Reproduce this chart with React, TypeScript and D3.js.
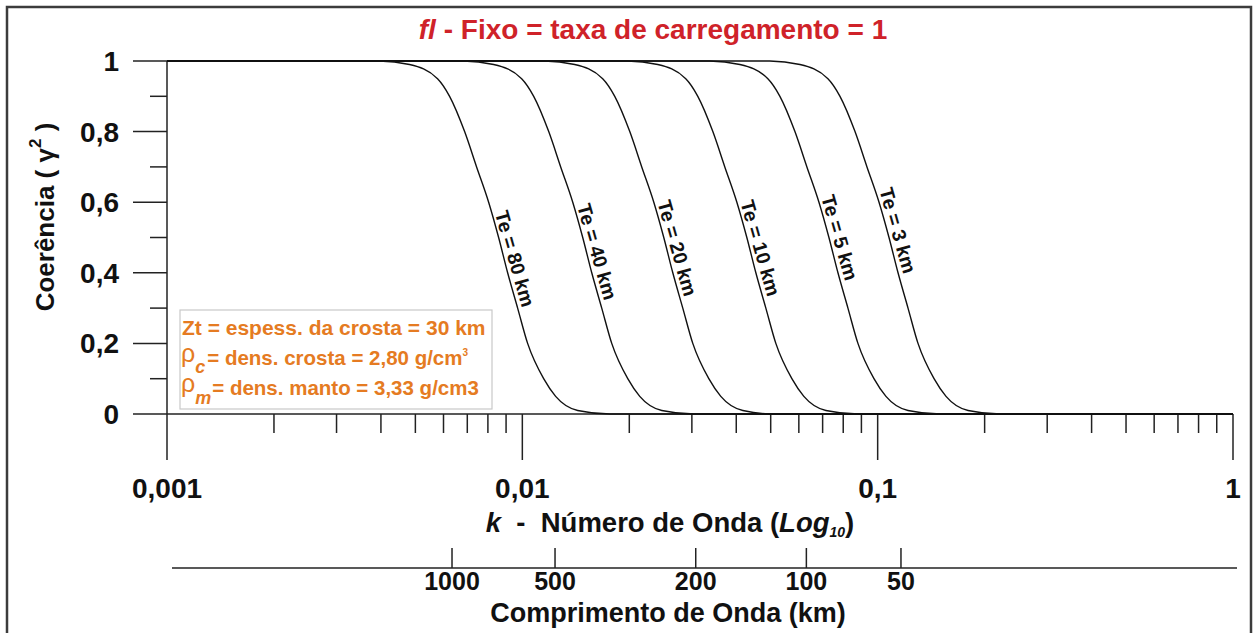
import * as d3 from "d3"

// coherence levels shared by all the curves (top to bottom)
const coherence = [1, 1, 0.99, 0.95, 0.9, 0.8, 0.7, 0.6, 0.5, 0.4, 0.3, 0.2, 0.1, 0.05, 0.01, 0, 0]

// wavenumber k for each level
const te80K = [0.001, 0.00396, 0.004815, 0.005773, 0.006242, 0.00688, 0.007435, 0.008039, 0.008576, 0.009092, 0.0097, 0.010349, 0.011482, 0.012409, 0.014316, 0.017616, 1]
const te40K = [0.001, 0.006829, 0.008304, 0.009956, 0.010765, 0.011865, 0.012822, 0.013864, 0.01479, 0.01568, 0.016729, 0.017848, 0.019802, 0.021401, 0.024689, 0.03038, 1]
const te20K = [0.001, 0.011547, 0.014041, 0.016834, 0.018202, 0.020062, 0.02168, 0.023442, 0.025008, 0.026512, 0.028285, 0.030178, 0.033482, 0.036185, 0.041745, 0.051368, 1]
const te10K = [0.001, 0.01978, 0.024051, 0.028836, 0.031179, 0.034366, 0.037138, 0.040155, 0.042837, 0.045415, 0.048452, 0.051693, 0.057353, 0.061983, 0.071508, 0.087992, 1]
const te5K = [0.001, 0.033672, 0.040942, 0.049088, 0.053076, 0.058501, 0.06322, 0.068356, 0.072922, 0.077309, 0.082479, 0.087998, 0.097632, 0.105514, 0.121729, 0.149789, 1]
const te3K = [0.001, 0.049698, 0.060428, 0.072451, 0.078337, 0.086344, 0.093309, 0.100889, 0.107629, 0.114105, 0.121735, 0.12988, 0.144099, 0.155733, 0.179666, 0.221081, 1]

const curveNames = ["Te = 80 km", "Te = 40 km", "Te = 20 km", "Te = 10 km", "Te = 5 km", "Te = 3 km"]
const curveKs = [te80K, te40K, te20K, te10K, te5K, te3K]

// axes
const yMajor = [0, 0.2, 0.4, 0.6, 0.8, 1]
const yMajorLabels = ["0", "0,2", "0,4", "0,6", "0,8", "1"]
const yMinor = [0.1, 0.3, 0.5, 0.7, 0.9]
const kDecades = [0.001, 0.01, 0.1, 1]
const kDecadeLabels = ["0,001", "0,01", "0,1", "1"]
const wavelengthLabels = ["1000", "500", "200", "100", "50"]
const wavelengthK = [0.00634, 0.01236, 0.03076, 0.063, 0.1163]

const FONT = "'Liberation Sans', Arial, sans-serif"
const RED = "#cf2229"
const ORANGE = "#e57b22"

export default function App() {
  const W = 1253
  const H = 633
  const x = d3.scaleLog().domain([0.001, 1]).range([167, 1233])
  const y = d3.scaleLinear().domain([0, 1]).range([414, 61])

  const kMinor: number[] = []
  for (let d = 0; d < 3; d++) {
    for (let m = 2; m <= 9; m++) kMinor.push(kDecades[d] * m)
  }

  const line = d3
    .line<[number, number]>()
    .x((d) => x(d[0]))
    .y((d) => y(d[1]))
    .curve(d3.curveMonotoneX)

  // where each label sits along its curve (coherence level) - layout only
  const labelAt = [0.44, 0.46, 0.47, 0.47, 0.5, 0.52]
  const labelPos = curveKs.map((ks, i) => {
    const c = labelAt[i]
    let j = 0
    while (j < coherence.length - 1 && !(coherence[j] >= c && coherence[j + 1] <= c)) j++
    const t = (coherence[j] - c) / (coherence[j] - coherence[j + 1] || 1)
    const lx = x(ks[j]) + (x(ks[j + 1]) - x(ks[j])) * t
    return [lx + 11, y(c)]
  })

  const yAxisX = x(0.001)
  const secY = 568

  return (
    <svg width={W} height={H} style={{ position: "absolute", left: 0, top: 0, background: "#fff" }} fontFamily={FONT}>
      <rect x={7} y={7} width={1244} height={660} fill="#fff" stroke="#3c3c3c" strokeWidth={2.5} />

      {/* title */}
      <text x={653} y={39} textAnchor="middle" fill={RED} fontWeight="bold" fontSize={28}>
        <tspan fontStyle="italic">fl</tspan> - Fixo = taxa de carregamento = 1
      </text>

      {/* y axis */}
      <line x1={yAxisX} x2={yAxisX} y1={y(1)} y2={y(0)} stroke="#222" strokeWidth={1.5} />
      {yMajor.map((v, i) => (
        <g key={"ym" + i}>
          <line x1={133} x2={yAxisX} y1={y(v)} y2={y(v)} stroke="#222" strokeWidth={1.5} />
          <text x={119} y={y(v)} dy="0.36em" textAnchor="end" fontWeight="bold" fontSize={28} fill="#111">
            {yMajorLabels[i]}
          </text>
        </g>
      ))}
      {yMinor.map((v, i) => (
        <line key={"yn" + i} x1={150} x2={yAxisX} y1={y(v)} y2={y(v)} stroke="#222" strokeWidth={1.5} />
      ))}
      <text
        transform={`translate(45,217) rotate(-90)`}
        textAnchor="middle"
        dominantBaseline="central"
        fontWeight="bold"
        fontSize={26}
        fill="#111"
      >
        Coerência ( γ<tspan fontSize={17} dy={-10}>2</tspan>
        <tspan dy={10}> )</tspan>
      </text>

      {/* x axis */}
      <line x1={x(0.001)} x2={x(1)} y1={y(0)} y2={y(0)} stroke="#222" strokeWidth={1.5} />
      {kDecades.map((k, i) => (
        <g key={"xd" + i}>
          <line x1={x(k)} x2={x(k)} y1={y(0)} y2={y(0) + 46} stroke="#222" strokeWidth={1.5} />
          <text x={x(k)} y={498} textAnchor="middle" fontWeight="bold" fontSize={28} fill="#111">
            {kDecadeLabels[i]}
          </text>
        </g>
      ))}
      {kMinor.map((k, i) => (
        <line key={"xn" + i} x1={x(k)} x2={x(k)} y1={y(0)} y2={y(0) + 19} stroke="#222" strokeWidth={1.5} />
      ))}
      <text x={670} y={532} textAnchor="middle" fontWeight="bold" fontSize={27.5} fill="#111" xmlSpace="preserve">
        <tspan fontStyle="italic">k</tspan>  -  Número de Onda (<tspan fontStyle="italic">Log</tspan>
        <tspan fontStyle="italic" fontSize={14} dy={5}>10</tspan>
        <tspan dy={-5}>)</tspan>
      </text>

      {/* wavelength axis */}
      <line x1={172} x2={1237} y1={secY} y2={secY} stroke="#222" strokeWidth={1.5} />
      {wavelengthK.map((k, i) => (
        <g key={"wl" + i}>
          <line x1={x(k)} x2={x(k)} y1={secY - 20} y2={secY} stroke="#222" strokeWidth={1.5} />
          <text x={x(k)} y={590} textAnchor="middle" fontWeight="bold" fontSize={25} fill="#111">
            {wavelengthLabels[i]}
          </text>
        </g>
      ))}
      <text x={668} y={622} textAnchor="middle" fontWeight="bold" fontSize={27} fill="#111">
        Comprimento de Onda (km)
      </text>

      {/* coherence curves */}
      {curveKs.map((ks, i) => (
        <path
          key={"c" + i}
          d={line(ks.map((k, j) => [k, coherence[j]] as [number, number])) || ""}
          fill="none"
          stroke="#111"
          strokeWidth={1.4}
        />
      ))}
      {curveNames.map((name, i) => (
        <text
          key={"l" + i}
          transform={`translate(${labelPos[i][0]},${labelPos[i][1]}) rotate(74)`}
          textAnchor="middle"
          dominantBaseline="central"
          fontWeight="bold"
          fontSize={19.5}
          fill="#111"
        >
          {name}
        </text>
      ))}

      {/* parameters box */}
      <rect x={180} y={310} width={312} height={99} fill="#fff" stroke="#c9c9c9" strokeWidth={1.2} />
      <g fill={ORANGE} fontWeight="bold">
        <text x={182} y={335} fontSize={21}>
          Zt = espess. da crosta = 30 km
        </text>
        <text x={181} y={362} fontSize={20.5}>
          <tspan fontSize={25} fontWeight="normal">ρ</tspan>
          <tspan fontSize={18} fontStyle="italic" dy={11}>c</tspan>
          <tspan dx={2} dy={-8}>= dens. crosta = 2,80 g/cm</tspan>
          <tspan fontSize={10} dy={-9}>3</tspan>
        </text>
        <text x={181} y={392} fontSize={20.5}>
          <tspan fontSize={25} fontWeight="normal">ρ</tspan>
          <tspan fontSize={18} fontStyle="italic" dy={12}>m</tspan>
          <tspan dx={1} dy={-9}>= dens. manto = 3,33 g/cm3</tspan>
        </text>
      </g>
    </svg>
  )
}
